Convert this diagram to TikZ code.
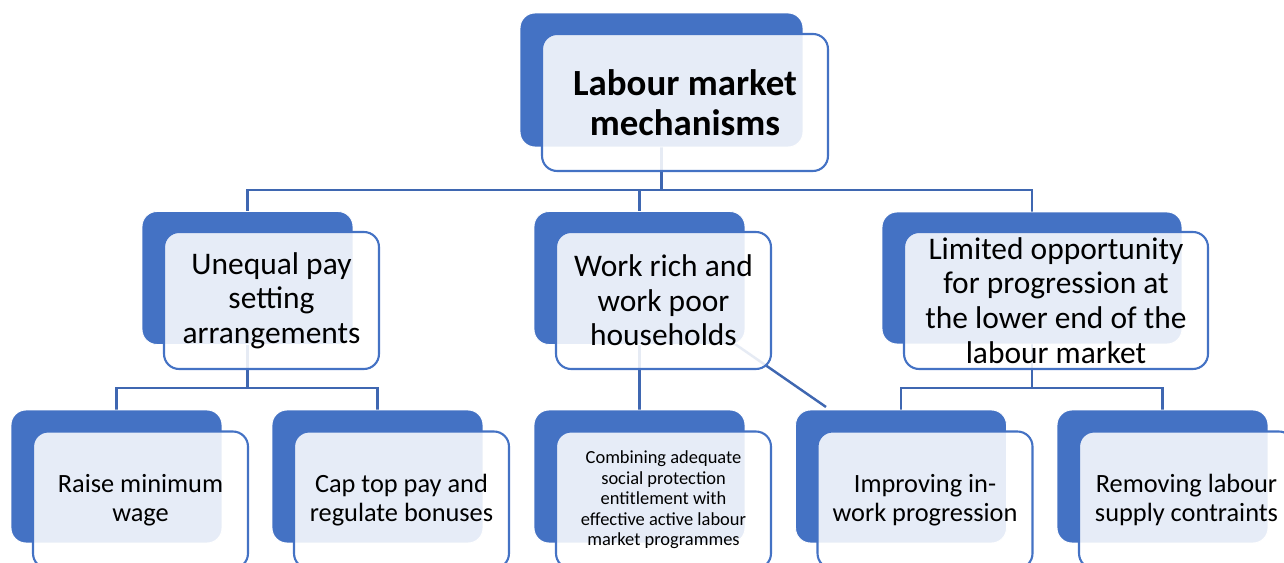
\documentclass[tikz,border=0pt]{standalone}
\usepackage{fontspec}
\setmainfont{Carlito}
\usepackage{tikz}
\usetikzlibrary{calc}
\pgfdeclarelayer{bg}
\pgfsetlayers{bg,main}
\definecolor{smblue}{HTML}{4472C4}
\definecolor{linkblue}{HTML}{3F67B1}
\tikzset{
	back/.style={rectangle, rounded corners=0.3cm, fill=smblue, draw=white, line width=0.5pt, inner sep=0pt, minimum width=4.22cm, minimum height=2.66cm},
	front/.style={rectangle, rounded corners=0.3cm, draw=smblue, line width=1.2pt, fill=white, fill opacity=0.87, text opacity=1, inner sep=0pt, align=center, minimum width=4.3cm, minimum height=2.74cm},
	link/.style={draw=linkblue, line width=1.4pt},
	headtext/.style={font=\fontsize{21}{22.7}\selectfont\bfseries},
	midtext/.style={font=\fontsize{17.9}{19.7}\selectfont},
	lowtext/.style={font=\fontsize{15}{16.4}\selectfont},
	finetext/.style={font=\fontsize{10.5}{11.7}\selectfont}
}

\begin{document}
\begin{tikzpicture}[x=0.02cm, y=-0.02cm]
		%%%%% START %%%%%
		\useasboundingbox (0,0) rectangle (1284,563);
		\clip (0,0) rectangle (1284,563);
		
		\node[back, minimum width=5.66cm, minimum height=2.68cm] (topback) at (661.5,80) {};
		\node[front, headtext, minimum width=5.72cm] (top) at ($(topback)+(23.5,22.5)$) {Labour market\\mechanisms};
		
		\node[back] (payback) at (247.5,278) {};
		\node[front, midtext] (pay) at ($(payback)+(24,22.5)$) {Unequal pay\\setting\\arrangements};
		\node[back] (workback) at (639.5,278) {};
		\node[front, midtext] (work) at ($(workback)+(24,22.5)$) {Work rich and\\work poor\\households};
		\node[back, minimum width=6cm, minimum height=2.64cm] (progback) at (1032,278) {};
		\node[front, midtext, minimum width=6.08cm] (prog) at ($(progback)+(24,22.5)$) {Limited opportunity\\for progression at\\the lower end of the\\labour market};
		
		\node[back] (wageback) at (116.5,476.5) {};
		\node[front, lowtext] (wage) at ($(wageback)+(24,23.5)$) {Raise minimum\\wage};
		\node[back] (capback) at (377.5,476.5) {};
		\node[front, lowtext] (cap) at ($(capback)+(24,23.5)$) {Cap top pay and\\regulate bonuses};
		\node[back] (combback) at (639.5,476.5) {};
		\node[front, finetext] (comb) at ($(combback)+(24,23.5)$) {Combining adequate\\social protection\\entitlement with\\effective active labour\\market programmes};
		\node[back] (inworkback) at (901,476.5) {};
		\node[front, lowtext] (inwork) at ($(inworkback)+(24,23.5)$) {Improving in-\\work progression};
		\node[back] (supplyback) at (1162.5,476.5) {};
		\node[front, lowtext] (supply) at ($(supplyback)+(24,23.5)$) {Removing labour\\supply contraints};
		
		% connectors, under the cards
		\coordinate (busa) at (0,190);
		\coordinate (busb) at (0,388);
		\coordinate (diagend) at (826,407);
		\begin{pgfonlayer}{bg}
			\foreach \kid in {payback,workback,progback}
				\draw[link] (topback.south) -- (topback.south |- busa) -| (\kid.north);
			\foreach \kid in {wageback,capback}
				\draw[link] (payback.south) -- (payback.south |- busb) -| (\kid.north);
			\draw[link] (workback.south) -- (combback.north);
			\draw[link] (workback.center) -- (diagend);
			\foreach \kid in {inworkback,supplyback}
				\draw[link] (progback.south) -- (progback.south |- busb) -| (\kid.north);
		\end{pgfonlayer}
		
		%%%%% END %%%%%
\end{tikzpicture}
\end{document}
